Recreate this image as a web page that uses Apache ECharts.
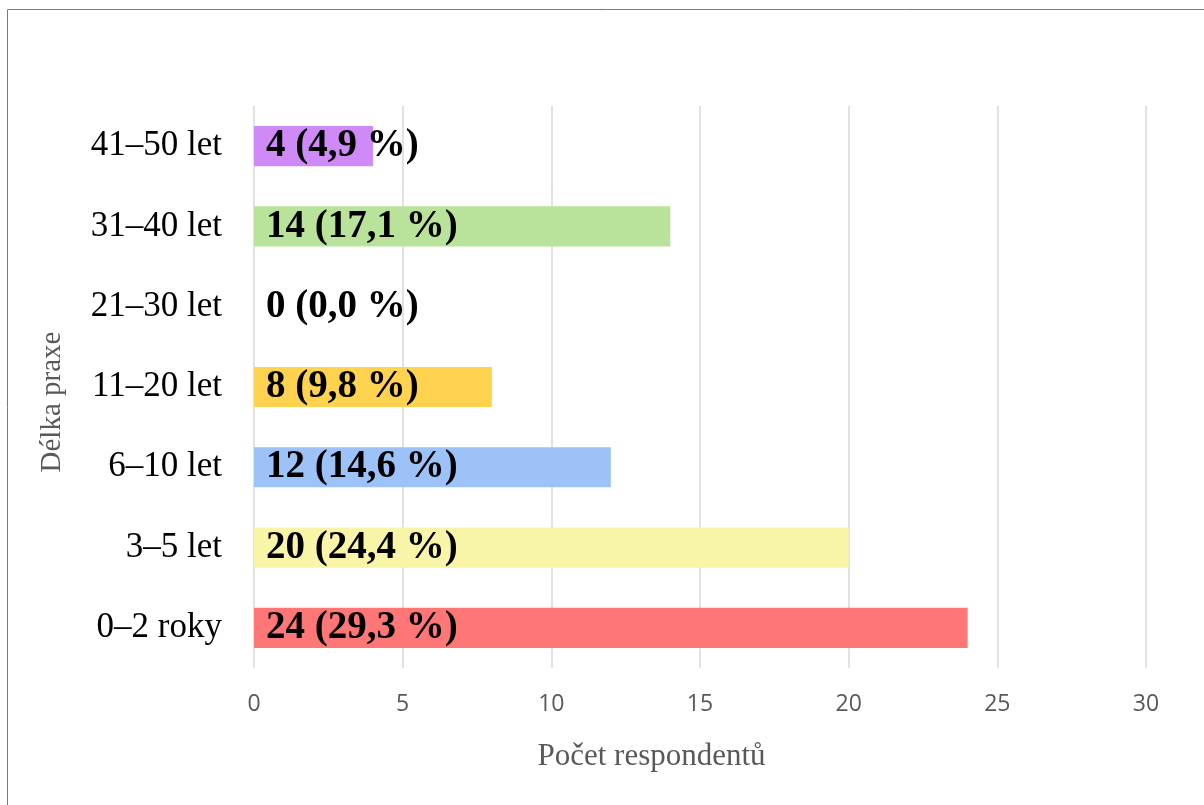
<!DOCTYPE html>
<html>
<head>
<meta charset="utf-8">
<script src="https://cdn.jsdelivr.net/npm/echarts@6/dist/echarts.min.js"></script>
<style>
  html, body { margin: 0; padding: 0; background: #fff; }
  #chart { width: 1204px; height: 805px; }
</style>
</head>
<body>
<div id="chart"></div>
<script>
// Years of practice, bottom to top
const categories = ['0–2 roky', '3–5 let', '6–10 let', '11–20 let', '21–30 let', '31–40 let', '41–50 let'];
const counts = [24, 20, 12, 8, 0, 14, 4];
const percents = ['29,3', '24,4', '14,6', '9,8', '0,0', '17,1', '4,9'];
const barColors = ['#FF7676', '#F8F5A8', '#9CC2F7', '#FFD350', '#CCCCCC', '#B9E39B', '#D08AF8'];
const xTicks = [0, 5, 10, 15, 20, 25, 30];
const xTitle = 'Počet respondentů';
const yTitle = 'Délka praxe';

const chart = echarts.init(document.getElementById('chart'));
chart.setOption({
  animation: false,
  backgroundColor: '#fff',
  graphic: [{
    type: 'rect',
    shape: { x: 7.5, y: 9.5, width: 1220, height: 820 },
    style: { fill: 'none', stroke: '#7a7a7a', lineWidth: 1 },
    silent: true
  }, {
    // vertical axis title
    type: 'text',
    x: 52,
    y: 402,
    rotation: Math.PI / 2,
    style: {
      text: yTitle,
      font: '29px "Liberation Serif"',
      fill: '#595959',
      align: 'center',
      verticalAlign: 'middle'
    },
    silent: true
  }],
  grid: { left: 254, right: 58, top: 106, bottom: 137 },
  xAxis: {
    type: 'value',
    min: xTicks[0],
    max: xTicks[xTicks.length - 1],
    interval: 5,
    name: xTitle,
    nameLocation: 'middle',
    nameGap: 73,
    nameTextStyle: {
      fontFamily: 'Liberation Serif', fontSize: 31, color: '#595959',
      padding: [0, 97, 0, 0]
    },
    axisLine: { show: false },
    axisTick: { show: false },
    axisLabel: { fontFamily: 'Open Sans', fontSize: 23, color: '#595959', margin: 25 },
    splitLine: { show: true, lineStyle: { color: '#D9D9D9', width: 1.5 } }
  },
  yAxis: {
    type: 'category',
    data: categories,
    axisLine: { show: false },
    axisTick: { show: false },
    axisLabel: { fontFamily: 'Liberation Serif', fontSize: 35, color: '#000', margin: 32 }
  },
  series: [{
    type: 'bar',
    data: counts.map((v, i) => ({ value: v, itemStyle: { color: barColors[i] } })),
    barWidth: '50%',
    label: {
      show: true,
      position: 'insideLeft',
      distance: 12,
      formatter: p => `${counts[p.dataIndex]} (${percents[p.dataIndex]} %)`,
      fontFamily: 'Liberation Serif',
      fontWeight: 'bold',
      fontSize: 39,
      color: '#000'
    }
  }]
});
</script>
</body>
</html>
